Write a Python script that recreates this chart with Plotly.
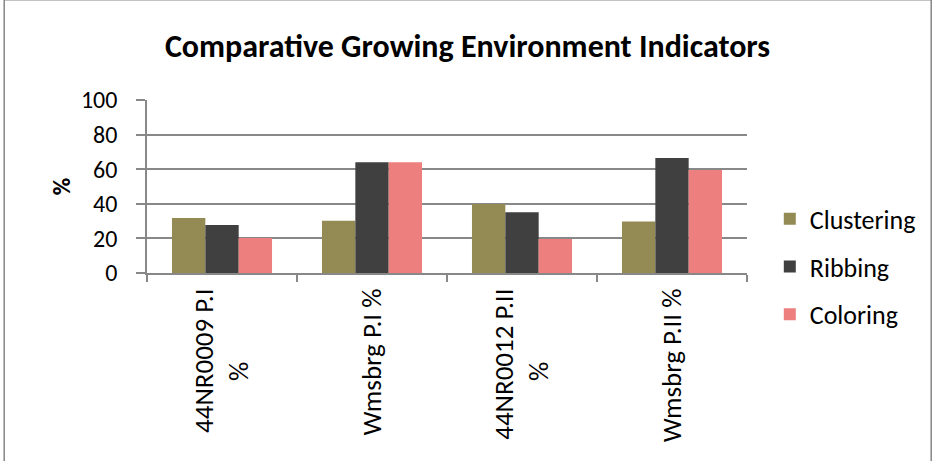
import plotly.graph_objects as go

# data
pad = '\u00a0' * 12  # pushes the second line toward the middle of the rotated label
categories = ['44NR0009 P.I<br>%' + pad, 'Wmsbrg P.I %', '44NR0012 P.II<br>%' + pad, 'Wmsbrg P.II %']
clustering = [31.8, 30.2, 39.9, 29.7]
ribbing = [27.7, 64.0, 35.1, 66.5]
coloring = [20.3, 64.0, 19.6, 59.5]

series = [
    ('Clustering', clustering, '#948A54'),
    ('Ribbing', ribbing, '#404040'),
    ('Coloring', coloring, '#ED7F7F'),
]

font_family = 'Carlito, Lato, sans-serif'
grid = '#888888'

fig = go.Figure()
for i, (name, vals, col) in enumerate(series):
    fig.add_trace(go.Bar(
        x=categories, y=vals, name=name,
        marker=dict(color=col, line=dict(width=0)),
        legendgroup=str(i),
    ))

fig.update_layout(
    width=935, height=461,
    margin=dict(l=147, r=188, t=100, b=188, autoexpand=False),
    paper_bgcolor='white', plot_bgcolor='white',
    barmode='group', bargap=0.333, bargroupgap=0,
    font=dict(family=font_family, size=24, color='black'),
    title=dict(text='<b>Comparative Growing Environment Indicators</b>',
               x=0.5, xanchor='center', y=0.9, yanchor='middle',
               font=dict(size=32, family=font_family)),
    legend=dict(x=1.038, xanchor='left', y=0.036, yanchor='middle',
                tracegroupgap=11, font=dict(size=26),
                itemwidth=30, bgcolor='rgba(0,0,0,0)'),
    showlegend=True,
)

fig.update_xaxes(
    tickangle=-90, tickson='boundaries', ticks='outside', ticklen=7,
    tickcolor=grid, tickwidth=1.5, ticklabelstandoff=3,
    showline=True, linecolor=grid, linewidth=1.5,
    showgrid=False, tickfont=dict(size=27), automargin=False,
)
fig.update_yaxes(
    range=[0, 100], dtick=20, ticks='outside', ticklen=9,
    tickcolor=grid, tickwidth=1.5, ticklabelstandoff=14,
    showline=True, linecolor=grid, linewidth=1.5,
    showgrid=True, gridcolor=grid, gridwidth=1.5,
    zeroline=False, tickfont=dict(size=24), automargin=False,
    title=dict(text='<b>%</b>', standoff=4, font=dict(size=24)),
)

# outer chart frame
fig.add_shape(type='rect', xref='paper', yref='paper',
              x0=-0.238, x1=1.307, y0=-1.2, y1=1.58,
              line=dict(color='#868686', width=1.5), layer='below')

# drop the default page margin so the figure sits at the window corner
fig.write_html('out.html', config={'displayModeBar': False},
               post_script="document.body.style.margin='0';")
